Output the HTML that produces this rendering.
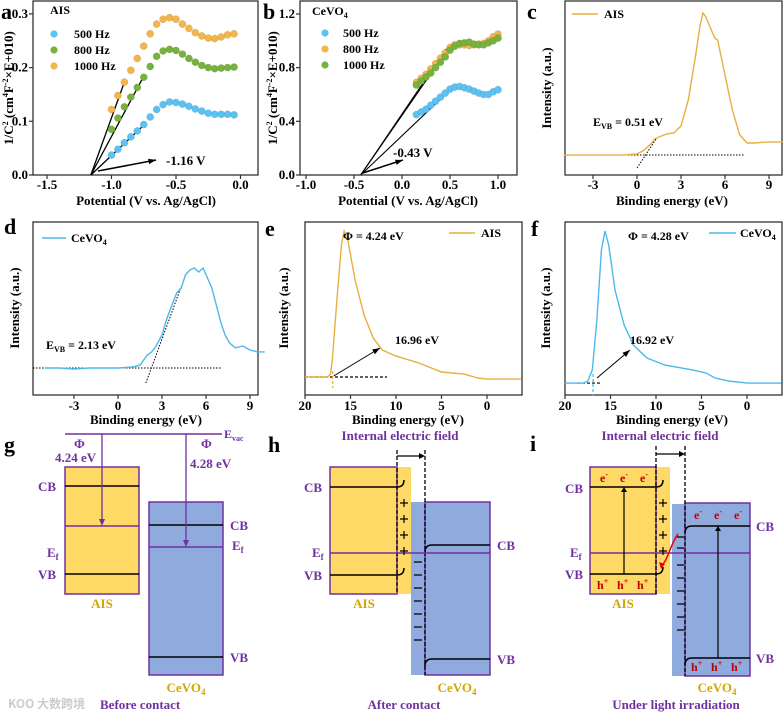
<!DOCTYPE html>
<html><head><meta charset="utf-8"><style>
body{margin:0;background:#fff}
svg{display:block;font-family:"Liberation Serif","Noto Serif CJK SC",serif;font-weight:bold}
.p{fill:#7030A0}
</style></head><body>
<svg id="fig" width="783" height="714" viewBox="0 0 783 714" xmlns="http://www.w3.org/2000/svg">
<g id="charts"></g>

<!-- panel g -->
<g font-size="13">
<text x="4" y="452" font-size="22">g</text>
<line x1="65" y1="434" x2="222" y2="434" stroke="#7030A0" stroke-width="1.5"/>
<text x="224" y="438" class="p" font-size="12">E<tspan font-size="8" dy="3">vac</tspan></text>
<rect x="65" y="467" width="74" height="127" fill="#FFD966" stroke="#7030A0" stroke-width="1.5"/>
<line x1="65" y1="486" x2="139" y2="486" stroke="#000" stroke-width="1.5"/>
<line x1="65" y1="526" x2="139" y2="526" stroke="#7030A0" stroke-width="1.5"/>
<line x1="65" y1="574" x2="139" y2="574" stroke="#000" stroke-width="1.5"/>
<line x1="102" y1="434" x2="102" y2="520" stroke="#7030A0" stroke-width="1.3"/>
<path d="M99,519 L102,526 L105,519Z" fill="#7030A0"/>
<text x="74" y="448" class="p">Φ</text>
<text x="55" y="462" class="p">4.24 eV</text>
<text x="38" y="491" class="p">CB</text>
<text x="47" y="557" class="p">E<tspan font-size="9" dy="3">f</tspan></text>
<text x="38" y="579" class="p">VB</text>
<text x="102" y="608" fill="#D4A600" text-anchor="middle">AIS</text>
<rect x="149" y="502" width="74" height="173" fill="#8FAADC" stroke="#7030A0" stroke-width="1.5"/>
<line x1="149" y1="525" x2="223" y2="525" stroke="#000" stroke-width="1.5"/>
<line x1="149" y1="547" x2="223" y2="547" stroke="#7030A0" stroke-width="1.5"/>
<line x1="149" y1="657" x2="223" y2="657" stroke="#000" stroke-width="1.5"/>
<line x1="186" y1="434" x2="186" y2="541" stroke="#7030A0" stroke-width="1.3"/>
<path d="M183,540 L186,547 L189,540Z" fill="#7030A0"/>
<text x="201" y="448" class="p">Φ</text>
<text x="190" y="468" class="p">4.28 eV</text>
<text x="230" y="530" class="p">CB</text>
<text x="232" y="550" class="p">E<tspan font-size="9" dy="3">f</tspan></text>
<text x="230" y="662" class="p">VB</text>
<text x="186" y="692" fill="#D4A600" text-anchor="middle">CeVO<tspan font-size="9" dy="3">4</tspan></text>
<text x="8" y="708" fill="#ccc" font-size="12" font-family="Noto Sans CJK SC, sans-serif">KOO 大数跨境</text>
<text x="100" y="709" class="p">Before contact</text>
</g>

<!-- panel h -->
<g font-size="13">
<text x="268" y="452" font-size="22">h</text>
<text x="400" y="440" class="p" text-anchor="middle">Internal electric field</text>
<rect x="397" y="467" width="14" height="127" fill="#FFD966"/>
<rect x="411" y="502" width="14" height="173" fill="#8FAADC"/>
<rect x="330" y="467" width="67" height="127" fill="#FFD966" stroke="#7030A0" stroke-width="1.5"/>
<rect x="425" y="502" width="65" height="173" fill="#8FAADC" stroke="#7030A0" stroke-width="1.5"/>
<line x1="397" y1="450" x2="397" y2="594" stroke="#000" stroke-dasharray="4,2" stroke-width="1.3"/>
<line x1="425" y1="450" x2="425" y2="675" stroke="#000" stroke-dasharray="4,2" stroke-width="1.3"/>
<line x1="397" y1="456" x2="421" y2="456" stroke="#000" stroke-width="1.2"/><path d="M419,453 L425,456 L419,459Z"/>
<path d="M330,487 H397 q7,0 7,-7" fill="none" stroke="#000" stroke-width="1.5"/>
<path d="M330,575 H397 q7,0 7,-7" fill="none" stroke="#000" stroke-width="1.5"/>
<path d="M490,545 H432 q-7,0 -7,7" fill="none" stroke="#000" stroke-width="1.5"/>
<path d="M490,659 H432 q-7,0 -7,7" fill="none" stroke="#000" stroke-width="1.5"/>
<line x1="330" y1="553" x2="490" y2="553" stroke="#7030A0" stroke-width="1.5"/>
<g stroke="#000" stroke-width="1.2"><path d="M400,503h8M404,499v8M400,519h8M404,515v8M400,535h8M404,531v8M400,551h8M404,547v8"/>
<path d="M414,562h8M414,575h8M414,588h8M414,601h8M414,614h8M414,627h8M414,640h8"/></g>
<text x="304" y="492" class="p">CB</text>
<text x="312" y="557" class="p">E<tspan font-size="9" dy="3">f</tspan></text>
<text x="304" y="580" class="p">VB</text>
<text x="497" y="550" class="p">CB</text>
<text x="497" y="664" class="p">VB</text>
<text x="364" y="608" fill="#D4A600" text-anchor="middle">AIS</text>
<text x="457" y="692" fill="#D4A600" text-anchor="middle">CeVO<tspan font-size="9" dy="3">4</tspan></text>
<text x="404" y="709" class="p" text-anchor="middle">After contact</text>
</g>

<!-- panel i -->
<g font-size="13">
<text x="530" y="451" font-size="22">i</text>
<text x="660" y="440" class="p" text-anchor="middle">Internal electric field</text>
<rect x="656" y="467" width="14" height="127" fill="#FFD966"/>
<rect x="672" y="504" width="13" height="172" fill="#8FAADC"/>
<rect x="590" y="467" width="66" height="127" fill="#FFD966" stroke="#7030A0" stroke-width="1.5"/>
<rect x="685" y="503" width="65" height="173" fill="#8FAADC" stroke="#7030A0" stroke-width="1.5"/>
<line x1="656" y1="446" x2="656" y2="594" stroke="#000" stroke-dasharray="4,2" stroke-width="1.3"/>
<line x1="685" y1="446" x2="685" y2="676" stroke="#000" stroke-dasharray="4,2" stroke-width="1.3"/>
<line x1="656" y1="454" x2="681" y2="454" stroke="#000" stroke-width="1.2"/><path d="M679,451 L685,454 L679,457Z"/>
<path d="M590,487 H656 q7,0 7,-7" fill="none" stroke="#000" stroke-width="1.5"/>
<path d="M590,574 H656 q7,0 7,-7" fill="none" stroke="#000" stroke-width="1.5"/>
<path d="M750,526 H692 q-7,0 -7,7" fill="none" stroke="#000" stroke-width="1.5"/>
<path d="M750,658 H692 q-7,0 -7,7" fill="none" stroke="#000" stroke-width="1.5"/>
<line x1="590" y1="553" x2="750" y2="553" stroke="#7030A0" stroke-width="1.5"/>
<line x1="624" y1="574" x2="624" y2="491" stroke="#000" stroke-width="1.2"/><path d="M621,492 L624,487 L627,492Z"/>
<line x1="718" y1="658" x2="718" y2="530" stroke="#000" stroke-width="1.2"/><path d="M715,531 L718,526 L721,531Z"/>
<path d="M678,534 C670,545 668,560 662,565" fill="none" stroke="#e00" stroke-width="1.5"/><path d="M659,562 L661,569 L665,564Z" fill="#e00"/>
<g stroke="#000" stroke-width="1.2"><path d="M659,503h8M663,499v8M659,519h8M663,515v8M659,535h8M663,531v8M659,551h8M663,547v8"/>
<path d="M677,537h7M677,548h7M677,565h7M677,578h7M677,591h7M677,604h7M677,617h7M677,630h7"/></g>
<g fill="#C00000" font-size="12"><text x="600" y="482">e<tspan font-size="8" dy="-5">-</tspan></text><text x="620" y="482">e<tspan font-size="8" dy="-5">-</tspan></text><text x="640" y="482">e<tspan font-size="8" dy="-5">-</tspan></text>
<text x="597" y="589">h<tspan font-size="8" dy="-5">+</tspan></text><text x="617" y="589">h<tspan font-size="8" dy="-5">+</tspan></text><text x="637" y="589">h<tspan font-size="8" dy="-5">+</tspan></text>
<text x="694" y="519">e<tspan font-size="8" dy="-5">-</tspan></text><text x="714" y="519">e<tspan font-size="8" dy="-5">-</tspan></text><text x="734" y="519">e<tspan font-size="8" dy="-5">-</tspan></text>
<text x="691" y="671">h<tspan font-size="8" dy="-5">+</tspan></text><text x="711" y="671">h<tspan font-size="8" dy="-5">+</tspan></text><text x="731" y="671">h<tspan font-size="8" dy="-5">+</tspan></text></g>
<text x="565" y="493" class="p">CB</text>
<text x="570" y="557" class="p">E<tspan font-size="9" dy="3">f</tspan></text>
<text x="565" y="579" class="p">VB</text>
<text x="756" y="531" class="p">CB</text>
<text x="756" y="663" class="p">VB</text>
<text x="623" y="608" fill="#D4A600" text-anchor="middle">AIS</text>
<text x="717" y="692" fill="#D4A600" text-anchor="middle">CeVO<tspan font-size="9" dy="3">4</tspan></text>
<text x="676" y="709" class="p" text-anchor="middle">Under light irradiation</text>
</g>
</svg>
<script>
// ---- data ----
const aX = [-1.0,-0.95,-0.9,-0.85,-0.8,-0.75,-0.7,-0.65,-0.6,-0.55,-0.5,-0.45,-0.4,-0.35,-0.3,-0.25,-0.2,-0.15,-0.1,-0.05];
const a500 = [0.037,0.048,0.06,0.071,0.082,0.094,0.108,0.122,0.131,0.136,0.135,0.132,0.128,0.123,0.119,0.115,0.113,0.113,0.113,0.112];
const a800 = [0.085,0.106,0.127,0.145,0.163,0.182,0.202,0.221,0.231,0.234,0.232,0.225,0.217,0.21,0.204,0.2,0.198,0.199,0.2,0.201];
const a1000 = [0.122,0.148,0.173,0.195,0.217,0.24,0.263,0.281,0.29,0.293,0.29,0.281,0.273,0.265,0.259,0.255,0.254,0.257,0.261,0.263];
const aFitEnds = [[-0.9,0.173],[-0.75,0.184],[-0.74,0.095]];
const aIntercept = -1.16;
const bX = [0.15,0.2,0.25,0.3,0.35,0.4,0.45,0.5,0.55,0.6,0.65,0.7,0.75,0.8,0.85,0.9,0.95,1.0];
const b500 = [0.45,0.47,0.49,0.52,0.55,0.58,0.61,0.64,0.655,0.66,0.65,0.64,0.625,0.61,0.6,0.6,0.62,0.635];
const b800 = [0.69,0.72,0.75,0.79,0.83,0.87,0.91,0.95,0.97,0.97,0.97,0.965,0.97,0.975,0.98,1.0,1.03,1.05];
const b1000 = [0.67,0.7,0.73,0.76,0.8,0.84,0.88,0.93,0.96,0.98,0.985,0.99,0.975,0.97,0.97,0.985,1.0,1.02];
const bFitEnds = [[0.46,0.94],[0.47,0.93],[0.54,0.66]];
const bIntercept = -0.43;
const cX = [-5,-4,-3,-2,-1,0,0.5,1,1.2,1.5,2,2.5,3,3.5,4,4.3,4.5,4.7,5,5.3,5.5,6,6.5,7,7.5,8,9,10];
const cY = [11.4,11.4,11.4,11.4,11.4,12,14.3,18.3,20.6,21.7,23.4,24,28,42.9,68.6,85.7,92.6,90.3,84,78.3,77.1,57.1,37.1,22.9,18.3,18.3,18.9,18.9];
const dX = [-5,-4,-3,-2,-1,0,1,1.5,2,2.3,2.6,3,3.3,3.6,4,4.3,4.6,4.9,5.2,5.5,5.8,6.1,6.4,6.7,7,7.3,7.6,8,8.5,9,9.5,10];
const dY = [15.6,15.6,15.0,15.6,15.6,15.6,16.2,17.3,23.1,24.9,28.3,34.7,43.4,50.3,59.0,61.8,69.4,72.3,73.4,71.1,73.4,67.6,61.8,52.0,42.2,34.7,30.1,27.2,28.3,26.0,24.9,24.9];
const eX = [20,19,18,17.5,17.2,17,16.5,16,15.7,15.3,14.5,13.5,12.5,11.5,10,7.5,5,2.5,1,0,-3.8];
const eY = [10.4,10.4,10.4,10.4,12.1,20.2,54.9,86.7,94.8,89.6,66.5,46.2,32.9,26.0,22.5,18.5,13.3,12.1,9.8,9.2,9.2];
const fX = [20,18,17.5,17,16.5,16,15.6,15.2,14.5,13.5,12.5,11,9,6,4.5,3.5,2,0,-3.8];
const fY = [6.9,6.9,8.1,14.5,43.4,83.8,94.8,86.7,60.7,40.5,28.9,21.4,17.3,14.5,12.7,9.8,8.1,6.9,6.9];
const aXTicks=[-1.5,-1.0,-0.5,0.0], aXLabels=["-1.5","-1.0","-0.5","0.0"];
const aYTicks=[0,0.1,0.2,0.3], aYLabels=["0.0","0.1","0.2","0.3"];
const bXTicks=[-1,-0.5,0,0.5,1], bXLabels=["-1.0","-0.5","0.0","0.5","1.0"];
const bYTicks=[0,0.4,0.8,1.2], bYLabels=["0.0","0.4","0.8","1.2"];
const cdTicks=[-3,0,3,6,9], cdLabels=["-3","0","3","6","9"];
const efTicks=[20,15,10,5,0], efLabels=["20","15","10","5","0"];

const NS="http://www.w3.org/2000/svg";
const root=document.getElementById('charts');
function mk(tag,attrs,name,parent){
  const el=document.createElementNS(NS,tag);
  for(const k in attrs) el.setAttribute(k,attrs[k]);
  
  
  (parent||root).appendChild(el);
  return el;
}
function txt(x,y,s,name,opt){
  const t=mk('text',Object.assign({x:x,y:y,'font-size':12},opt||{}),name);
  t.innerHTML=s; return t;
}
function frame(name,x0,y0,x1,y1){
  mk('rect',{x:x0,y:y0,width:x1-x0,height:y1-y0,fill:'none',stroke:'#333','stroke-width':1.3},name+'-frame');
}
function xAxis(name,sx,ticks,labels,yb,ty){
  ticks.forEach((t,i)=>{
    mk('line',{x1:sx(t),x2:sx(t),y1:yb,y2:yb+4,stroke:'#333','stroke-width':1.2},name+'-xtick');
    txt(sx(t),ty,labels[i],name+'-xtick-label',{'text-anchor':'middle','font-size':13});
  });
}
function yAxis(name,sy,ticks,labels,xl){
  ticks.forEach((t,i)=>{
    mk('line',{x1:xl,x2:xl-4,y1:sy(t),y2:sy(t),stroke:'#333','stroke-width':1.2},name+'-ytick');
    txt(xl-5,sy(t)+4,labels[i],name+'-ytick-label',{'text-anchor':'end','font-size':13});
  });
}
function ytitle(x,cy,s,name){
  txt(x,cy,s,name,{'text-anchor':'middle','font-size':13,transform:'rotate(-90 '+x+' '+cy+')'});
}
function dots(xs,ys,sx,sy,col,name){
  xs.forEach((x,i)=>{ mk('circle',{cx:sx(x),cy:sy(ys[i]),r:3.6,fill:col,stroke:'rgba(0,0,0,0.15)','stroke-width':0.5},name); });
}
function line(xs,ys,sx,sy,col,name){
  const d=xs.map((x,i)=>(i?'L':'M')+sx(x).toFixed(1)+','+sy(ys[i]).toFixed(1)).join('');
  mk('path',{d:d,fill:'none',stroke:col,'stroke-width':1.4},name);
}
function arrow(x1,y1,x2,y2,name,w){
  mk('line',{x1:x1,y1:y1,x2:x2,y2:y2,stroke:'#000','stroke-width':w||1.5},name);
  const a=Math.atan2(y2-y1,x2-x1),L=8;
  const p=[[x2,y2],[x2-L*Math.cos(a-0.35),y2-L*Math.sin(a-0.35)],[x2-L*Math.cos(a+0.35),y2-L*Math.sin(a+0.35)]];
  mk('path',{d:'M'+p.map(q=>q.join(',')).join('L')+'Z',fill:'#000'},name+'-head');
}
const BLUE='#5BC2F2', GREEN='#78B23E', ORANGE='#F2B64A', LO='#E6B040', LB='#4DB8EA';
const ytl1='1/C<tspan font-size="8" dy="-5">2</tspan><tspan dy="5"> (cm</tspan><tspan font-size="8" dy="-5">4</tspan><tspan dy="5">F</tspan><tspan font-size="8" dy="-5">-2</tspan><tspan dy="5">×E+010)</tspan>';

// ---- panel a ----
{const sx=x=>47+(x+1.5)*129, sy=y=>175-y*537;
frame('panel-a',33,1,258,175);
xAxis('panel-a',sx,aXTicks,aXLabels,175,189); yAxis('panel-a',sy,aYTicks,aYLabels,33);
aFitEnds.forEach(p=>mk('line',{x1:sx(aIntercept),y1:sy(0),x2:sx(p[0]),y2:sy(p[1]),stroke:'#000','stroke-width':1.3},'panel-a-fit-line'));
dots(aX,a500,sx,sy,BLUE,'panel-a-500hz-point'); dots(aX,a800,sx,sy,GREEN,'panel-a-800hz-point'); dots(aX,a1000,sx,sy,ORANGE,'panel-a-1000hz-point');
arrow(98,171,156,160,'panel-a-arrow'); txt(166,165,'-1.16 V','panel-a-intercept-label',{'font-size':13});
txt(50,14,'AIS','panel-a-sample-label',{'font-size':12});
[['500 Hz',BLUE],['800 Hz',GREEN],['1000 Hz',ORANGE]].forEach((l,i)=>{mk('circle',{cx:54,cy:34+i*16,r:3.6,fill:l[1]},'panel-a-legend-marker');txt(74,38+i*16,l[0],'panel-a-legend-entry',{'font-size':12});});
txt(146,205,'Potential (V vs. Ag/AgCl)','panel-a-x-title',{'text-anchor':'middle','font-size':13});
ytitle(13,88,ytl1,'panel-a-y-title');
txt(1,19,'a','panel-letter-a',{'font-size':22});}

// ---- panel b ----
{const sx=x=>306+(x+1)*96, sy=y=>175-y*134.2;
frame('panel-b',300,1,517,175);
xAxis('panel-b',sx,bXTicks,bXLabels,175,189); yAxis('panel-b',sy,bYTicks,bYLabels,300);
bFitEnds.forEach(p=>mk('line',{x1:sx(bIntercept),y1:sy(0),x2:sx(p[0]),y2:sy(p[1]),stroke:'#000','stroke-width':1.1},'panel-b-fit-line'));
dots(bX,b500,sx,sy,BLUE,'panel-b-500hz-point'); dots(bX,b800,sx,sy,ORANGE,'panel-b-800hz-point'); dots(bX,b1000,sx,sy,GREEN,'panel-b-1000hz-point');
arrow(sx(bIntercept)+2,173,403,160,'panel-b-arrow'); txt(393,157,'-0.43 V','panel-b-intercept-label',{'font-size':13});
txt(312,15,'CeVO<tspan font-size="8" dy="3">4</tspan>','panel-b-sample-label',{'font-size':12});
[['500 Hz',BLUE],['800 Hz',ORANGE],['1000 Hz',GREEN]].forEach((l,i)=>{mk('circle',{cx:325,cy:33+i*16,r:3.6,fill:l[1]},'panel-b-legend-marker');txt(343,37+i*16,l[0],'panel-b-legend-entry',{'font-size':12});});
txt(408,205,'Potential (V vs. Ag/AgCl)','panel-b-x-title',{'text-anchor':'middle','font-size':13});
ytitle(277,88,ytl1,'panel-b-y-title');
txt(263,19,'b','panel-letter-b',{'font-size':22});}

// ---- panel c ----
{const sx=x=>637+x*14.67, sy=v=>175-v*1.75;
frame('panel-c',565,1,782,175);
xAxis('panel-c',sx,cdTicks,cdLabels,175,189);
mk('line',{x1:565,y1:sy(cY[0]),x2:sx(7.3),y2:sy(cY[0]),stroke:'#000','stroke-width':1,'stroke-dasharray':'1.5,1.5'},'panel-c-baseline');
mk('line',{x1:sx(0),y1:168,x2:sx(1.3),y2:139,stroke:'#000','stroke-width':1,'stroke-dasharray':'1.5,1.5'},'panel-c-tangent');
line(cX,cY,sx,sy,LO,'panel-c-ais-curve');
mk('line',{x1:572,y1:14,x2:598,y2:14,stroke:LO,'stroke-width':1.5},'panel-c-legend-line');
txt(604,18,'AIS','panel-c-legend-entry',{'font-size':12});
txt(593,126,'E<tspan font-size="8" dy="3">VB</tspan><tspan dy="-3"> = 0.51 eV</tspan>','panel-c-evb-label',{'font-size':12});
txt(672,205,'Binding energy (eV)','panel-c-x-title',{'text-anchor':'middle','font-size':13});
ytitle(551,88,'Intensity (a.u.)','panel-c-y-title');
txt(527,19,'c','panel-letter-c',{'font-size':22});}

// ---- panel d ----
{const sx=x=>118+x*14.67, sy=v=>395-v*1.73;
frame('panel-d',33,222,258,395);
xAxis('panel-d',sx,cdTicks,cdLabels,395,410);
mk('line',{x1:33,y1:sy(dY[0]),x2:sx(7),y2:sy(dY[0]),stroke:'#000','stroke-width':1,'stroke-dasharray':'1.5,1.5'},'panel-d-baseline');
mk('line',{x1:sx(1.9),y1:383,x2:sx(4.3),y2:287,stroke:'#000','stroke-width':1,'stroke-dasharray':'1.5,1.5'},'panel-d-tangent');
line(dX,dY,sx,sy,LB,'panel-d-cevo4-curve');
mk('line',{x1:42,y1:238,x2:66,y2:238,stroke:LB,'stroke-width':1.5},'panel-d-legend-line');
txt(71,242,'CeVO<tspan font-size="8" dy="3">4</tspan>','panel-d-legend-entry',{'font-size':12});
txt(46,349,'E<tspan font-size="8" dy="3">VB</tspan><tspan dy="-3"> = 2.13 eV</tspan>','panel-d-evb-label',{'font-size':12});
txt(146,424,'Binding energy (eV)','panel-d-x-title',{'text-anchor':'middle','font-size':13});
ytitle(19,308,'Intensity (a.u.)','panel-d-y-title');
txt(4,234,'d','panel-letter-d',{'font-size':22});}

// ---- panel e ----
{const sx=x=>487-x*9.1, sy=v=>395-v*1.73;
frame('panel-e',305,222,522,395);
xAxis('panel-e',sx,efTicks,efLabels,395,410);
mk('line',{x1:305,y1:sy(eY[0]),x2:387,y2:sy(eY[0]),stroke:'#000','stroke-width':1.2,'stroke-dasharray':'3,2'},'panel-e-baseline');
mk('line',{x1:sx(16.96),y1:371,x2:sx(16.96),y2:388,stroke:LO,'stroke-width':1.2,'stroke-dasharray':'3,2'},'panel-e-cutoff');
line(eX,eY,sx,sy,LO,'panel-e-ais-curve');
arrow(sx(16.96)+1,376,380,348,'panel-e-arrow',1);
txt(395,344,'16.96 eV','panel-e-cutoff-label',{'font-size':12});
txt(343,240,'Φ = 4.24 eV','panel-e-phi-label',{'font-size':12});
mk('line',{x1:449,y1:233,x2:475,y2:233,stroke:LO,'stroke-width':1.5},'panel-e-legend-line');
txt(481,237,'AIS','panel-e-legend-entry',{'font-size':12});
txt(408,424,'Binding energy (eV)','panel-e-x-title',{'text-anchor':'middle','font-size':13});
ytitle(288,308,'Intensity (a.u.)','panel-e-y-title');
txt(265,236,'e','panel-letter-e',{'font-size':22});}

// ---- panel f ----
{const sx=x=>747-x*9.1, sy=v=>395-v*1.73;
frame('panel-f',565,222,782,395);
xAxis('panel-f',sx,efTicks,efLabels,395,410);
mk('line',{x1:577,y1:sy(fY[0]),x2:600,y2:sy(fY[0]),stroke:'#000','stroke-width':1.2,'stroke-dasharray':'3,2'},'panel-f-baseline');
mk('line',{x1:sx(16.92),y1:374,x2:sx(16.92),y2:396,stroke:LB,'stroke-width':1.2,'stroke-dasharray':'3,2'},'panel-f-cutoff');
line(fX,fY,sx,sy,LB,'panel-f-cevo4-curve');
arrow(597,378,630,350,'panel-f-arrow',1);
txt(630,344,'16.92 eV','panel-f-cutoff-label',{'font-size':12});
txt(628,240,'Φ = 4.28 eV','panel-f-phi-label',{'font-size':12});
mk('line',{x1:709,y1:233,x2:736,y2:233,stroke:LB,'stroke-width':1.5},'panel-f-legend-line');
txt(740,237,'CeVO<tspan font-size="8" dy="3">4</tspan>','panel-f-legend-entry',{'font-size':12});
txt(672,424,'Binding energy (eV)','panel-f-x-title',{'text-anchor':'middle','font-size':13});
ytitle(550,308,'Intensity (a.u.)','panel-f-y-title');
txt(531,236,'f','panel-letter-f',{'font-size':22});}
</script>
</body></html>
